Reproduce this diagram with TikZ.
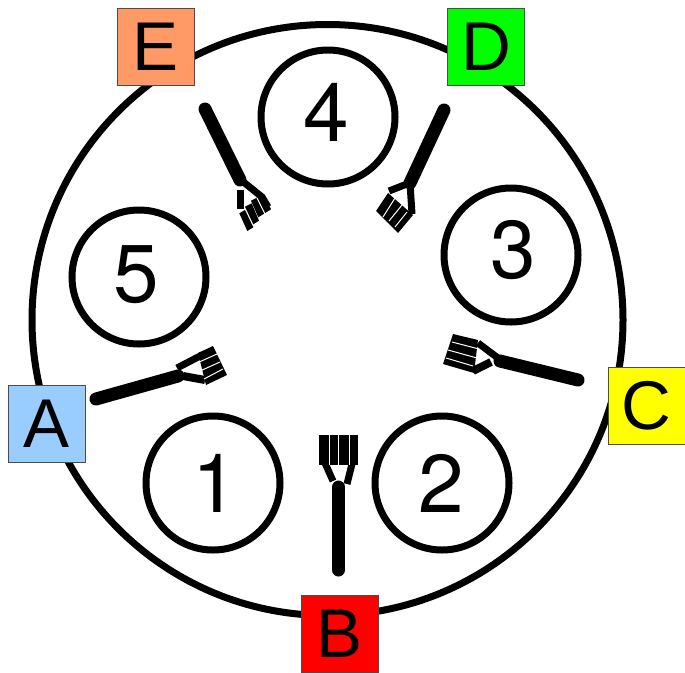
\documentclass[tikz,border=0pt]{standalone}
\usepackage{fontspec}
\setmainfont{TeX Gyre Heros}
\newfontfamily\letterfont{Liberation Sans}
\definecolor{cA}{HTML}{99CCFF}
\definecolor{cE}{HTML}{FF9966}
\definecolor{cD}{HTML}{00FF00}
\definecolor{cC}{HTML}{FFFF00}
\definecolor{cB}{HTML}{FF0000}
\tikzset{
 ring/.style={draw=black,line width=7pt,circle,inner sep=0pt,minimum size=134pt},
 digit/.style={inner sep=0pt,font=\fontsize{82}{82}\selectfont},
 tag/.style={draw=black!70,line width=0.6pt,inner sep=0pt,minimum size=77pt,font=\letterfont\fontsize{69}{69}\selectfont},
 handle/.style={line width=13pt,line cap=round,black},
 arm/.style={line width=7pt,black},
 tine/.style={fill=black,draw=none},
 gap/.style={white,line width=1pt}
}
\begin{document}
\begin{tikzpicture}[x=1pt,y=-1pt]
\useasboundingbox (0,0) rectangle (685,672);
\node[draw=black,line width=7pt,circle,inner sep=0pt,minimum size=591pt] (outer) at (327.5,320) {};
\node[ring] (n1) at (213,483) {};
\node[ring] (n2) at (442,483) {};
\node[ring] (n3) at (511,255) {};
\node[ring] (n4) at (328,117) {};
\node[ring] (n5) at (139,277) {};
\node[digit] (t1) at (215,483) {1};
\node[digit] (t2) at (441.5,483) {2};
\node[digit] (t3) at (513,250) {3};
\node[digit] (t4) at (326,112) {4};
\node[digit] (t5) at (136,275) {5};
\node[tag,fill=cA] (A) at (46.5,424) {A};
\node[tag,fill=cB] (B) at (340,633.5) {B};
\node[tag,fill=cC] (C) at (646.5,406) {C};
\node[tag,fill=cD] (D) at (486,47) {D};
\node[tag,fill=cE] (E) at (156,47) {E};
% fork B
\draw[handle] (338.5,487) -- (338.5,570);
\draw[arm] (325,463) -- (333,481);
\draw[arm] (353,460) -- (347,484);
\fill[tine] (319,435) rectangle (358,465);
\draw[gap] (329,435) -- (329,465);
\draw[gap] (338.5,435) -- (338.5,465);
\draw[gap] (349,435) -- (349,465);
% fork D
\draw[handle] (444,110) -- (410,183);
\draw[arm] (412,182) -- (389,191);
\draw[arm] (410,183) -- (412,214);
\fill[tine] (388,193) -- (376,211) -- (398,233) -- (413,215) -- cycle;
\draw[gap] (395,198) -- (383,217);
\draw[gap] (402,205) -- (389,221);
\draw[gap] (407,212) -- (395,227);
% fork E
\draw[handle] (205,109) -- (240,180);
\draw[arm] (241,180) -- (262,197) -- (268,207);
\fill[tine] (237,190) rectangle (244,209);
\fill[tine] (239.3,213.3) -- (245,210) -- (253.3,227.3) -- (247.3,231) -- cycle;
\fill[tine] (245,206.7) -- (251.7,203.3) -- (259,220.7) -- (253.3,224.3) -- cycle;
\fill[tine] (251,200.7) -- (264,194) -- (271,209.3) -- (258.3,217.3) -- cycle;
\draw[gap] (257,198) -- (265,214);
% fork A
\draw[handle] (96,399) -- (178,376);
\draw[arm] (177,368) -- (202,355);
\draw[line width=8pt,black] (183,376) -- (205,380);
\fill[tine] (198,353) -- (213,346) -- (227,375) -- (206,385) -- cycle;
\draw[gap] (197,363) -- (217,354);
\draw[gap] (200,371) -- (220,362);
\draw[gap] (204,379) -- (223,369);
% fork C
\draw[handle] (500,361) -- (578,380);
\draw[arm] (478,343) -- (498,358);
\draw[line width=8pt,black] (473,371) -- (491,362);
\fill[tine] (453,334) -- (478,340) -- (474,373) -- (443,364) -- cycle;
\draw[gap] (452,342) -- (479,349);
\draw[gap] (448,350) -- (477,358);
\draw[gap] (446,358) -- (473,366);
\end{tikzpicture}
\end{document}
